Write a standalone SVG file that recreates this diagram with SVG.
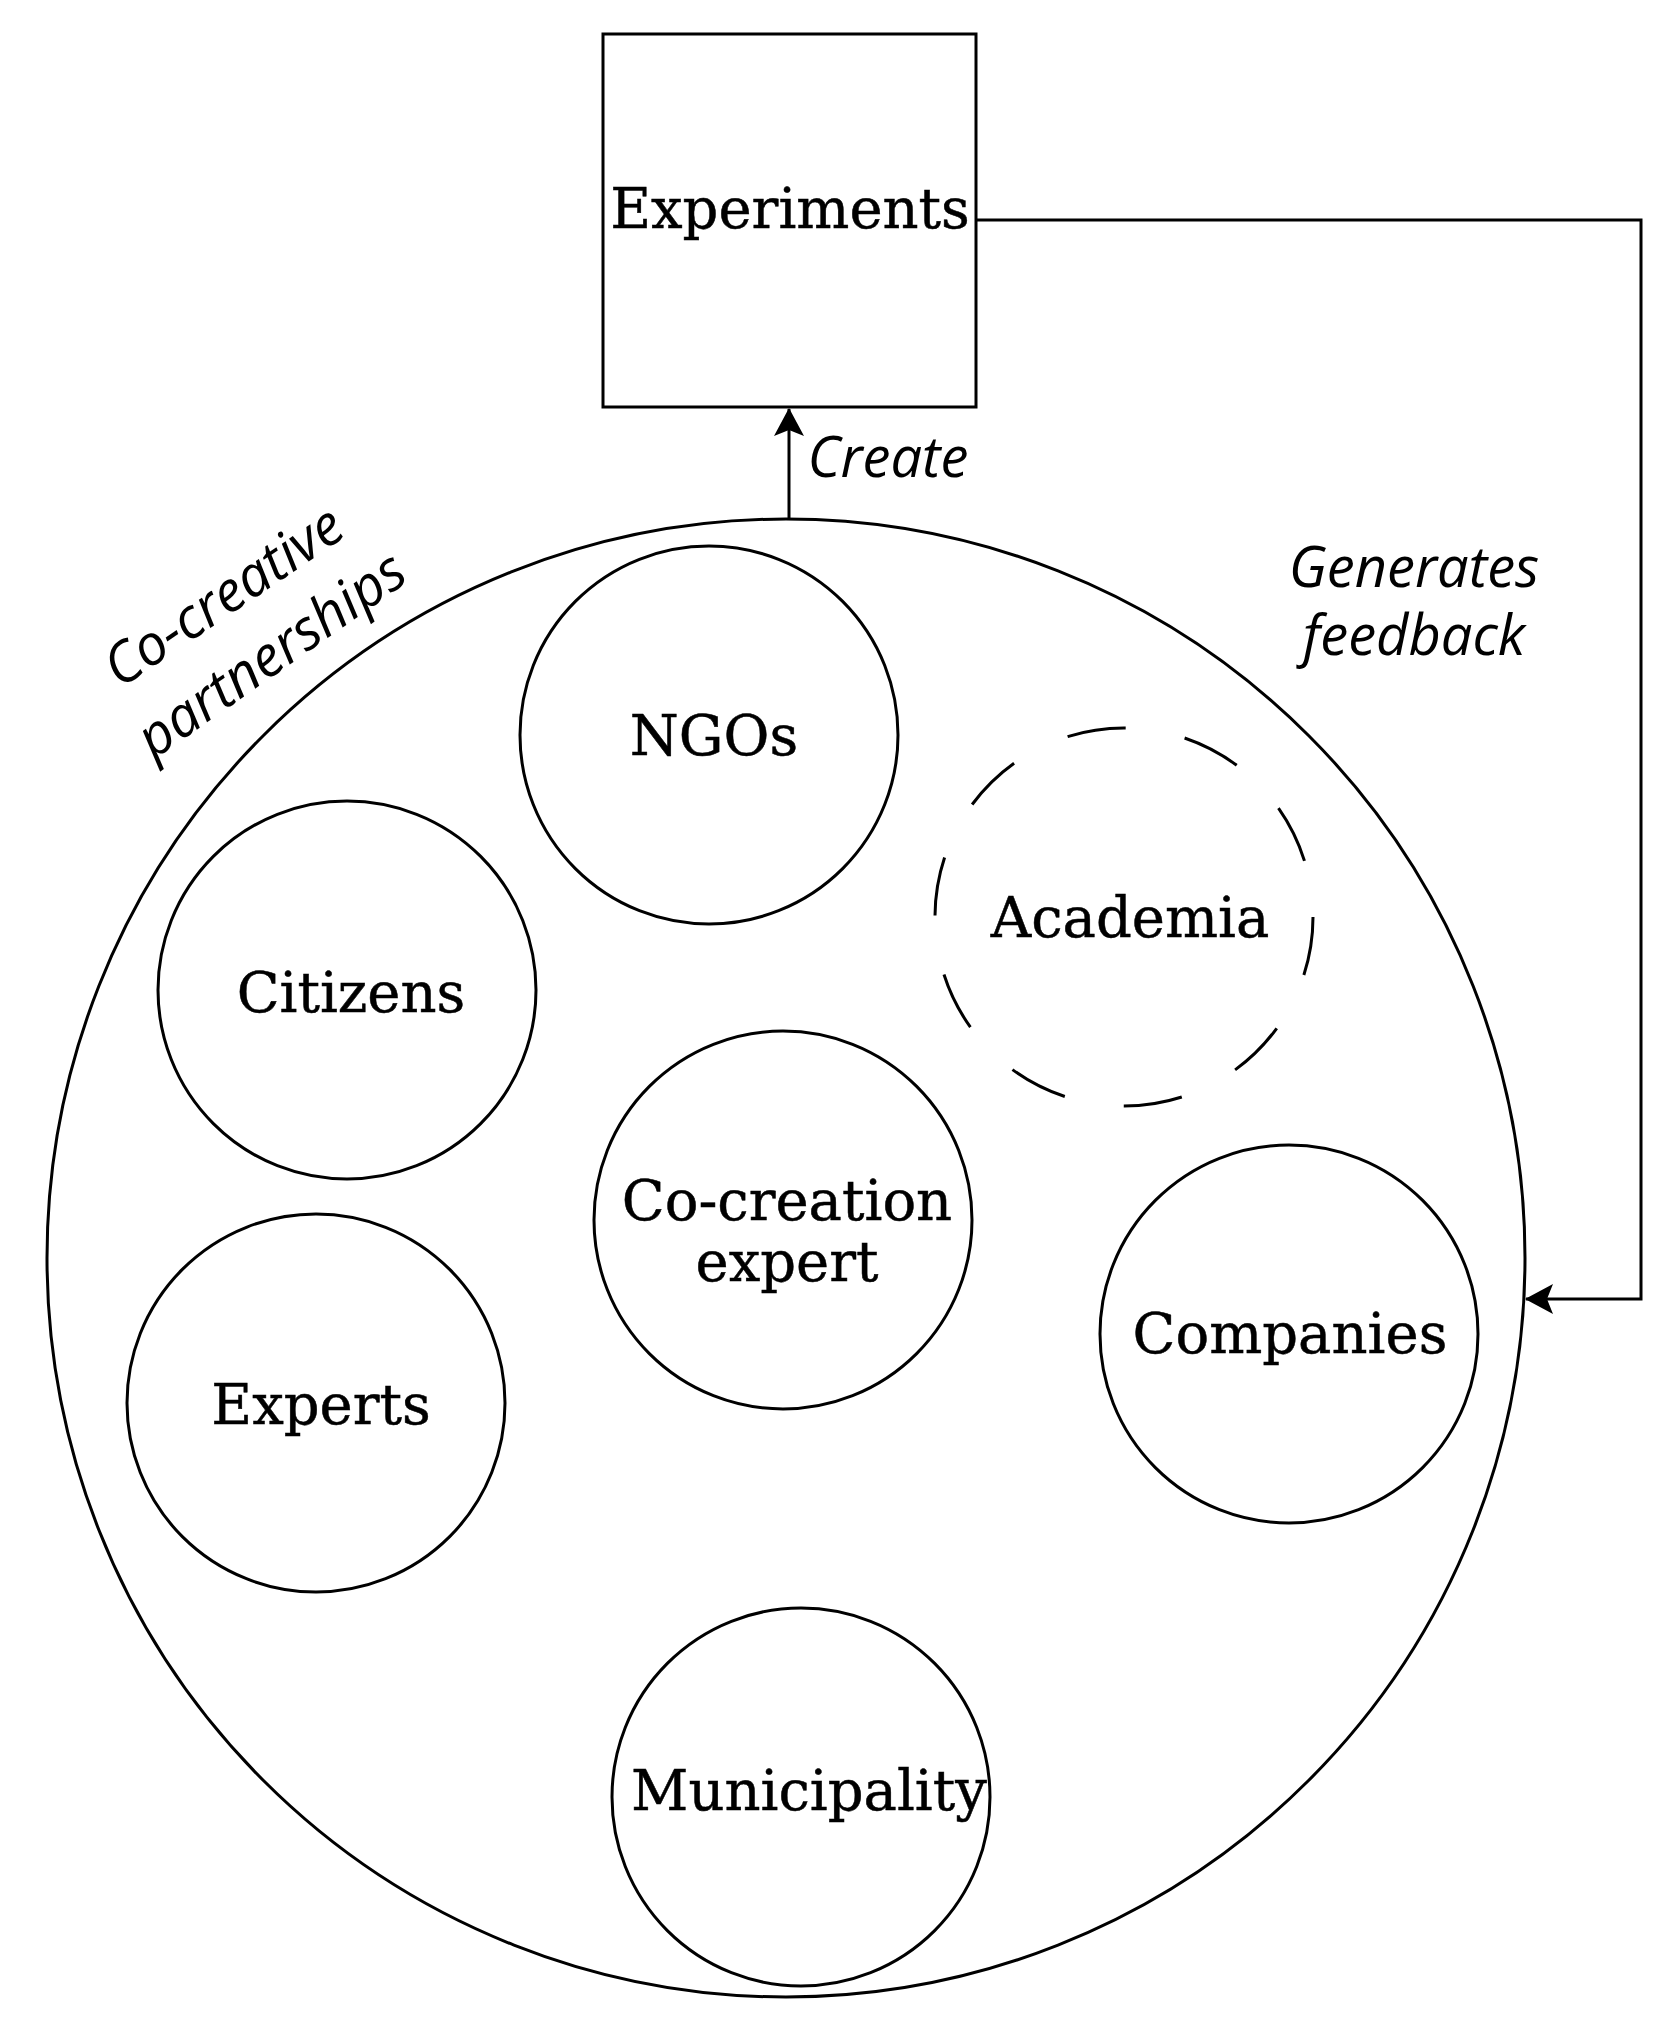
<svg xmlns="http://www.w3.org/2000/svg" width="1680" height="2030" viewBox="0 0 1680 2030">
<style>
.node{fill:none;stroke:#000;stroke-width:3}
.dash{fill:none;stroke:#000;stroke-width:3;stroke-dasharray:59 60}
.lbl{font-family:"DejaVu Serif","Liberation Serif",serif;font-size:56px;fill:#000;stroke:#000;stroke-width:0.5;text-anchor:middle}
.it{font-family:"Open Sans","Liberation Sans",sans-serif;font-style:italic;font-weight:400;font-size:56px;fill:#000;text-anchor:middle}
.edge{fill:none;stroke:#000;stroke-width:3}
</style>
<defs>
<marker id="arr" markerUnits="userSpaceOnUse" viewBox="0 0 28 30" refX="27" refY="15" markerWidth="28" markerHeight="30" orient="auto">
<path d="M0,0 L28,15 L0,30 L6,15 Z" fill="#000"/>
</marker>
</defs>
<rect width="1680" height="2030" fill="#fff"/>
<g id="partnerships">
<circle class="node" cx="786" cy="1258" r="739"/>
</g>
<g id="experiments">
<rect class="node" x="603" y="34" width="373" height="373"/>
<text class="lbl" x="790" y="228">Experiments</text>
</g>
<g id="ngos">
<circle class="node" cx="709" cy="735" r="189"/>
<text class="lbl" x="714" y="755">NGOs</text>
</g>
<g id="academia">
<circle class="dash" cx="1124" cy="917" r="189"/>
<text class="lbl" x="1130" y="937">Academia</text>
</g>
<g id="citizens">
<circle class="node" cx="347" cy="990" r="189"/>
<text class="lbl" x="351" y="1012">Citizens</text>
</g>
<g id="cocreation">
<circle class="node" cx="783" cy="1220" r="189"/>
<text class="lbl" x="787" y="1220">Co-creation</text>
<text class="lbl" x="787" y="1281">expert</text>
</g>
<g id="companies">
<circle class="node" cx="1289" cy="1334" r="189"/>
<text class="lbl" x="1290" y="1353">Companies</text>
</g>
<g id="experts">
<circle class="node" cx="316" cy="1403" r="189"/>
<text class="lbl" x="321" y="1424">Experts</text>
</g>
<g id="municipality">
<circle class="node" cx="801" cy="1797" r="189"/>
<text class="lbl" x="809" y="1810">Municipality</text>
</g>
<g id="connectors">
<line class="edge" x1="789" y1="520" x2="789" y2="409" marker-end="url(#arr)"/>
<polyline class="edge" points="976,220 1641,220 1641,1299 1526,1299" marker-end="url(#arr)"/>
</g>
<g id="labels">
<text class="it" x="888" y="477">Create</text>
<text class="it" x="1414" y="587">Generates</text>
<text class="it" x="1414" y="655">feedback</text>
<text class="it" transform="translate(234,612) rotate(-34)">Co-creative</text>
<text class="it" transform="translate(282,670) rotate(-35)">partnerships</text>
</g>
</svg>
